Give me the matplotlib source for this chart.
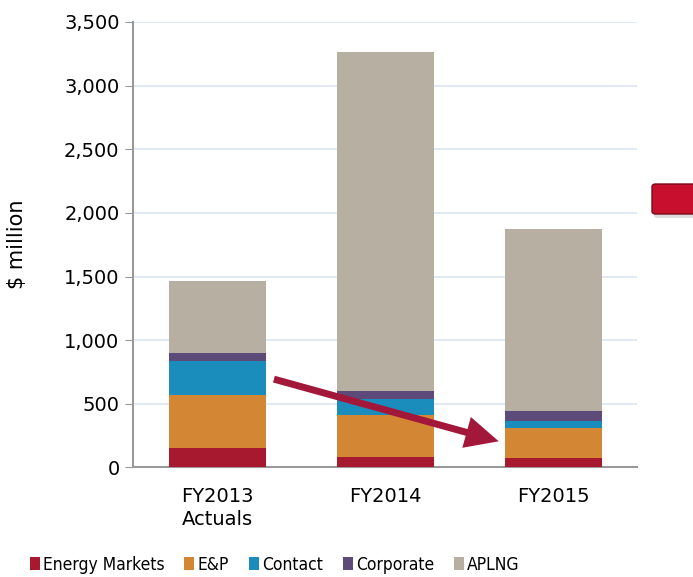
import matplotlib.pyplot as plt
import numpy as np
from matplotlib.patches import FancyBboxPatch, Patch
from matplotlib import font_manager

# === Data ($ million) ===
years = ["FY2013\nActuals", "FY2014", "FY2015"]
segments = ["Energy Markets", "E&P", "Contact", "Corporate", "APLNG"]
energy_markets = [156, 85, 77]
e_and_p = [416, 325, 231]
contact = [262, 128, 60]
corporate = [65, 63, 76]
aplng = [568, 2663, 1429]
colors = ["#A6192E", "#D38634", "#1A8DBC", "#5C4A78", "#B7AFA1"]

series = [energy_markets, e_and_p, contact, corporate, aplng]

fig = plt.figure(figsize=(6.93, 5.77), dpi=100)
ax = fig.add_axes([0.1926, 0.1898, 0.7273, 0.7721])

x = np.arange(len(years))
bottom = np.zeros(len(years))
for vals, col in zip(series, colors):
    ax.bar(x, vals, width=0.58, bottom=bottom, color=col, zorder=3)
    bottom += np.array(vals)

# === Axes styling ===
ax.set_xlim(-0.5, 2.5)
ax.set_ylim(0, 3500)
ax.set_yticks(np.arange(0, 3501, 500))
ax.set_yticklabels([f"{v:,}" for v in range(0, 3501, 500)], fontsize=14)
ax.set_xticks(x)
ax.set_xticklabels(years, fontsize=14, linespacing=1.3)
ax.tick_params(axis='x', length=0, pad=14)
ax.tick_params(axis='y', length=6, color='#999999', pad=4)
ax.set_ylabel("$ million", fontsize=15, labelpad=27)
ax.grid(axis='y', color='#DCE6F2', linewidth=1.2, zorder=0)
for s in ['top', 'right']:
    ax.spines[s].set_visible(False)
for s in ['left', 'bottom']:
    ax.spines[s].set_color('#999999')
    ax.spines[s].set_linewidth(1.5)

# === Arrow ===
ax.annotate('', xy=(1.69, 200), xytext=(0.32, 700),
            arrowprops=dict(arrowstyle='simple,tail_width=0.5,head_width=2.3,head_length=2.4',
                            mutation_scale=10, color='#A3183A', lw=0),
            zorder=5)

# === Red button at right edge ===
shadow = FancyBboxPatch((654 / 693, (577 - 218) / 577), 0.12, 31 / 577,
                        boxstyle='round,pad=0,rounding_size=0.005',
                        transform=fig.transFigure, facecolor='#BBBBBB',
                        edgecolor='none', alpha=0.5)
button = FancyBboxPatch((652 / 693, (577 - 214) / 577), 0.12, 30 / 577,
                        boxstyle='round,pad=0,rounding_size=0.005',
                        transform=fig.transFigure, facecolor='#C8102E',
                        edgecolor='#7A0A1A', linewidth=1)
fig.add_artist(shadow)
fig.add_artist(button)

# === Legend ===
leg_font = font_manager.FontProperties(family='DejaVu Sans', stretch='condensed', size=12.5)
handles = [Patch(facecolor=c, edgecolor='none') for c in colors]
fig.legend(handles, segments, loc='center left', bbox_to_anchor=(0.043, 0.021), ncol=5,
           frameon=False, handlelength=0.58, handleheight=0.75, handletextpad=0.17,
           columnspacing=1.15, borderaxespad=0, borderpad=0, prop=leg_font)

fig.savefig("out.png", dpi=100)
